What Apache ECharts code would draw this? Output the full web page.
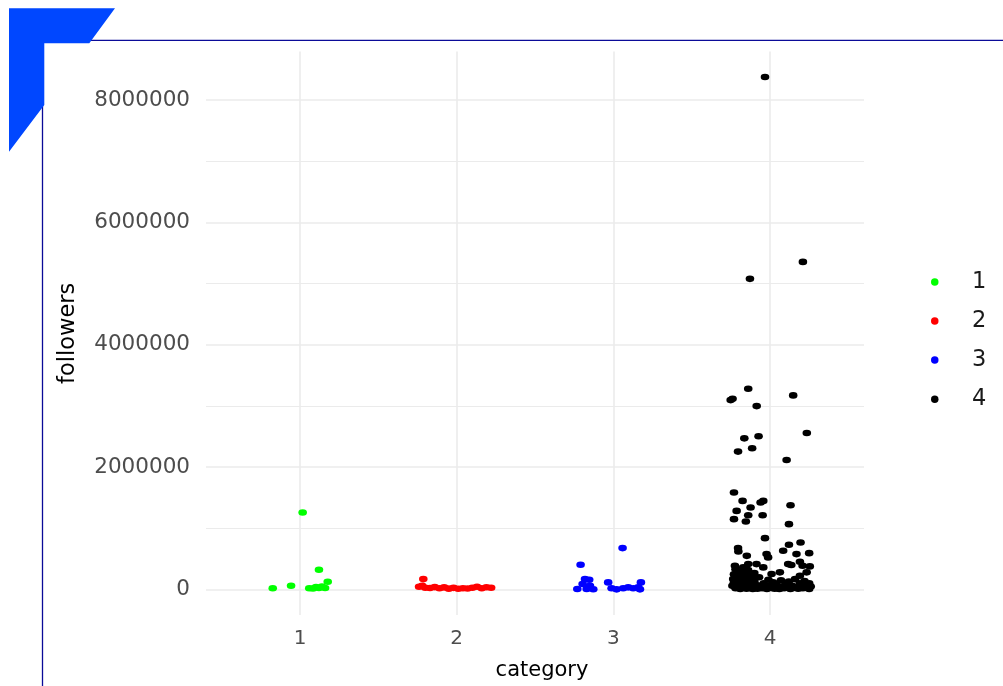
<!DOCTYPE html>
<html><head><meta charset="utf-8">
<script src="https://cdn.jsdelivr.net/npm/echarts@6/dist/echarts.min.js"></script>
<style>html,body{margin:0;padding:0;background:#fff}#c{width:1003px;height:686px}</style>
</head><body><div id="c"></div>
<script>
const categories = ['1', '2', '3', '4'];
const categoryPositions = [1, 2, 3, 4];
const yTickValues = [0, 2000000, 4000000, 6000000, 8000000];
const yMinorValues = [1000000, 3000000, 5000000, 7000000];
const seriesColors = ['#00ff00', '#ff0000', '#0000ff', '#000000'];

// [jittered category position, followers]
const group1 = [
  [1.017, 1260000], [0.826, 20000], [0.943, 62000], [1.121, 323000], [1.059, 20000],
  [1.102, 40000], [1.121, 25000], [1.140, 49000], [1.160, 25000], [1.177, 127000], [1.083, 16000]
];
const group2 = [
  [1.787, 171000], [1.76, 45000], [1.78, 60000], [1.80, 30000], [1.83, 25000], [1.86, 40000],
  [1.89, 20000], [1.92, 35000], [1.95, 15000], [1.98, 28000], [2.01, 12000], [2.04, 22000],
  [2.07, 18000], [2.10, 30000], [2.13, 45000], [2.16, 20000], [2.19, 38000], [2.22, 30000]
];
const group3 = [
  [3.059, 677000], [2.791, 405000], [2.819, 171000], [2.846, 160000], [2.804, 90000],
  [2.851, 62000], [2.770, 8000], [2.872, 5000], [2.830, 8000], [2.967, 117000],
  [2.989, 20000], [3.021, 3000], [3.063, 20000], [3.095, 36000], [3.127, 20000],
  [3.159, 36000], [3.176, 117000], [3.170, 3000]
];
const group4 = [
  [3.968, 8377000], [3.872, 5077000], [4.210, 5354000], [3.861, 3281000], [3.749, 3096000],
  [3.761, 3119000], [3.915, 2998000], [4.148, 3173000], [3.836, 2471000], [3.927, 2504000],
  [3.796, 2254000], [3.886, 2308000], [4.235, 2558000], [4.106, 2117000], [3.770, 1586000],
  [3.825, 1449000], [3.876, 1341000], [3.940, 1423000], [3.957, 1449000], [3.787, 1285000],
  [3.861, 1215000], [3.770, 1150000], [3.846, 1113000], [3.953, 1215000], [4.131, 1378000],
  [4.121, 1069000], [3.968, 840000], [3.796, 677000], [4.121, 731000], [4.195, 770000],
  [3.798, 623000], [3.852, 551000], [3.978, 579000], [3.988, 525000], [4.084, 633000],
  [4.169, 579000], [4.250, 595000], [4.116, 416000], [4.191, 454000], [4.208, 388000],
  [3.914, 416000], [3.776, 388000], [3.861, 416000], [3.957, 362000], [4.010, 253000],
  [4.063, 281000], [4.254, 378000], [3.765, 171000], [4.234, 281000], [4.191, 225000],
  [4.136, 400000], [3.829, 362000],
  [3.76, 60000], [3.77, 120000], [3.78, 20000], [3.79, 90000], [3.80, 150000], [3.80, 40000],
  [3.81, 10000], [3.82, 70000], [3.83, 180000], [3.83, 30000], [3.84, 110000], [3.85, 15000],
  [3.85, 60000], [3.86, 140000], [3.87, 25000], [3.88, 90000], [3.88, 45000], [3.89, 10000],
  [3.90, 130000], [3.91, 35000], [3.92, 70000], [3.92, 15000], [3.93, 200000], [3.94, 50000],
  [3.95, 20000], [3.96, 100000], [3.97, 40000], [3.98, 10000], [3.99, 160000], [4.00, 60000],
  [4.01, 25000], [4.02, 120000], [4.03, 15000], [4.04, 80000], [4.05, 40000], [4.06, 10000],
  [4.07, 150000], [4.08, 50000], [4.09, 20000], [4.10, 90000], [4.11, 30000], [4.12, 130000],
  [4.13, 10000], [4.14, 60000], [4.15, 25000], [4.16, 170000], [4.17, 40000], [4.18, 15000],
  [4.19, 100000], [4.20, 50000], [4.21, 20000], [4.22, 140000], [4.23, 70000], [4.24, 30000],
  [4.25, 100000], [4.25, 10000], [4.26, 50000],
  [3.77, 250000], [3.79, 280000], [3.81, 220000], [3.84, 260000], [3.87, 230000], [3.90, 270000],
  [3.78, 330000], [3.82, 300000], [3.86, 320000], [3.89, 210000]
];
const groups = [group1, group2, group3, group4];

const FONT = 'DejaVu Sans';
const chart = echarts.init(document.getElementById('c'), null, { renderer: 'canvas' });

const gridLines = [
  ...yTickValues.map(v => ({ yAxis: v })),
  ...yMinorValues.map(v => ({ yAxis: v, lineStyle: { width: 1 } })),
  ...categoryPositions.map(v => ({ xAxis: v }))
];

chart.setOption({
  animation: false,
  backgroundColor: '#ffffff',
  grid: { left: 206, right: 139, top: 51.6, bottom: 70, containLabel: false },
  xAxis: {
    type: 'value', min: 0.4, max: 4.6,
    axisLine: { show: false }, axisTick: { show: false }, splitLine: { show: false },
    axisLabel: {
      customValues: categoryPositions,
      formatter: v => categories[categoryPositions.indexOf(v)] || '',
      color: '#4d4d4d', fontSize: 20, fontFamily: FONT, margin: 14
    },
    name: 'category', nameLocation: 'middle', nameGap: 45,
    nameTextStyle: { color: '#000000', fontSize: 21, fontFamily: FONT, padding: [0, 0, 0, 14] }
  },
  yAxis: {
    type: 'value', min: -416000, max: 8791000,
    axisLine: { show: false }, axisTick: { show: false }, splitLine: { show: false },
    axisLabel: {
      customValues: yTickValues,
      formatter: v => String(v),
      color: '#4d4d4d', fontSize: 21.5, fontFamily: FONT, margin: 16
    },
    name: 'followers', nameLocation: 'middle', nameGap: 126, nameRotate: 90,
    nameTextStyle: { color: '#000000', fontSize: 22.5, fontFamily: FONT }
  },
  legend: {
    data: categories,
    orient: 'vertical', left: 926, top: 265.4,
    itemWidth: 8.5, itemHeight: 7.5, itemGap: 16.1, icon: 'circle',
    selectedMode: false,
    textStyle: { fontSize: 22.5, fontFamily: FONT, color: '#1a1a1a', padding: [0, 0, 0, 28], lineHeight: 22 }
  },
  series: [
    {
      type: 'scatter', name: '_grid', data: [], silent: true, z: 0,
      markLine: {
        z: 0, zlevel: 0,
        silent: true, symbol: ['none', 'none'], animation: false,
        label: { show: false },
        lineStyle: { color: '#ebebeb', width: 1.6, type: 'solid' },
        emphasis: { disabled: true },
        data: gridLines
      }
    },
    ...groups.map((g, i) => ({
      type: 'scatter', name: categories[i], data: g, z: 10,
      symbol: 'circle', symbolSize: [8.6, 6.6],
      itemStyle: { color: seriesColors[i], opacity: 1 },
      emphasis: { disabled: true }
    }))
  ],
  graphic: [
    { type: 'polygon', z: 100, shape: { points: [[9, 8.3], [115, 8.3], [89.3, 43.3], [44.3, 43.3], [44.3, 105], [9, 151.7]] }, style: { fill: '#0047ff' } },
    { type: 'line', z: 99, shape: { x1: 89, y1: 40.3, x2: 1003, y2: 40.3 }, style: { stroke: '#0b0b98', lineWidth: 1.3 } },
    { type: 'line', z: 99, shape: { x1: 42.5, y1: 100, x2: 42.5, y2: 686 }, style: { stroke: '#0b0b98', lineWidth: 1.3 } }
  ]
});
</script>
</body></html>
